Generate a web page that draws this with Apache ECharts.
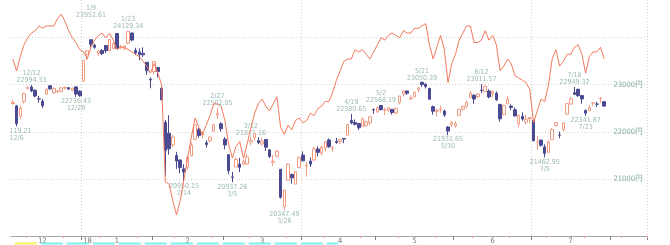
<!DOCTYPE html>
<html><head><meta charset="utf-8">
<script src="https://cdn.jsdelivr.net/npm/echarts@6/dist/echarts.min.js"></script>
<style>html,body{margin:0;padding:0;background:#fff}#c{width:670px;height:245px}</style>
</head><body><div id="c"></div>
<script>
// trading days per month (category axis)
const tradingDays = [
 ['2017-12',[5,6,7,8,11,12,13,14,15,18,19,20,21,22,25,26,27,28,29]],
 ['2018-01',[4,5,9,10,11,12,15,16,17,18,19,22,23,24,25,26,29,30,31]],
 ['2018-02',[1,2,5,6,7,8,9,13,14,15,16,19,20,21,22,23,26,27,28]],
 ['2018-03',[1,2,5,6,7,8,9,12,13,14,15,16,19,20,22,23,26,27,28,29,30]],
 ['2018-04',[2,3,4,5,6,9,10,11,12,13,16,17,18,19,20,23,24,25,26,27]],
 ['2018-05',[1,2,7,8,9,10,11,14,15,16,17,18,21,22,23,24,25,28,29,30,31]],
 ['2018-06',[1,4,5,6,7,8,11,12,13,14,15,18,19,20,21,22,25,26,27,28,29]],
 ['2018-07',[2,3,4,5,6,9,10,11,12,13,17,18,19,20,23,24,25,26,27,30,31]],
 ['2018-08',[1,2,3,6,7,8,9,10,13,14]]
];
// daily candles [open, close, low, high]
const candles = [
 [22600,22622,22580,22680],[22550,22177,22119.21,22570],[22330,22498,22280,22560],[22640,22811,22600,22830],
 [22920,22938,22890,22960],[22950,22866,22840,22994.33],[22880,22758,22730,22900],[22700,22694,22620,22760],
 [22650,22553,22500,22700],[22800,22901,22780,22920],[22975,22910,22890,22985],[22830,22915,22800,22940],
 [22860,22866,22810,22890],[22855,22930,22840,22945],[22925,22939,22900,22960],[22935,22905,22890,22950],
 [22880,22925,22860,22940],[22950,22800,22736.43,22970],[22860,22765,22745,22880],
 [23073,23506,23065,23506],[23643,23714,23520,23730],[23948,23850,23789,23952.61],[23832,23788,23755,23864],
 [23656,23710,23601,23734],[23720,23654,23622,23753],[23827,23715,23664,23833],[23721,23952,23704,23962],
 [23767,23868,23738,23899],[24078,23763,23762,24084],[23788,23808,23745,23839],[23748,23816,23729,23829],
 [23876,24124,23849,24129.34],[24090,23941,23917,24098],[23719,23669,23623,23778],[23690,23632,23519,23763],
 [23660,23629,23580,23787],[23470,23292,23206,23480],[23113,23098,22922,23154],
 [23276,23486,23211,23486],[23361,23275,23148,23367],[22921,22682,22659,22967],[22200,21610,21079,22250],
 [21970,21645,21521,22353],[21728,21891,21678,21932],[21500,21383,21219,21580],[21408,21245,21123,21408],
 [21219,21154,20950.15,21319],[21263,21465,21202,21481],[21495,21720,21495,21774],[21840,22149,21840,22152],
 [22056,21925,21879,22087],[21936,21971,21863,22012],[21769,21736,21669,21822],[21811,21893,21776,21903],
 [22019,22154,22004,22173],[22356,22390,22268,22502.05],[22173,22068,22008,22202],
 [21846,21724,21631,21892],[21520,21182,21102,21520],[21050,21042,20937.26,21154],[21260,21418,21260,21452],
 [21320,21253,21149,21452],[21319,21368,21316,21417],[21323,21469,21309,21544],[21785,21824,21720,21900],
 [21880,21968,21817,21968.16],[21815,21777,21742,21883],[21746,21804,21715,21880],[21840,21677,21598,21840],
 [21621,21481,21451,21640],[21358,21381,21279,21512],[21484,21592,21464,21615],[21210,20618,20589,21220],
 [20418,20766,20347.49,20780],[20980,21317,20979,21339],[21101,21031,20907,21115],[20897,21159,20897,21167],
 [21250,21454,21250,21488],
 [21511,21389,21381,21589],[21280,21292,21056,21369],[21383,21320,21261,21460],[21409,21645,21381,21680],
 [21639,21568,21483,21694],[21553,21678,21501,21701],[21661,21794,21590,21807],[21831,21687,21663,21862],
 [21650,21660,21580,21705],[21800,21779,21747,21874],[21790,21836,21737,21852],[21863,21848,21763,21864],
 [21929,22158,21925,22165],[22242,22191,22160,22380.65],[22200,22162,22136,22264],[22176,22088,22041,22193],
 [22120,22278,22114,22308],[22130,22215,22104,22238],[22193,22320,22137,22336],[22475,22468,22381,22495],
 [22426,22508,22397,22536],[22560,22473,22448,22568.19],[22460,22467,22355,22511],[22462,22509,22423,22530],
 [22478,22409,22365,22484],[22403,22497,22372,22519],[22623,22758,22582,22767],[22797,22866,22749,22876],
 [22866,22818,22783,22869],[22699,22717,22680,22771],[22740,22838,22737,22850],[22890,22930,22838,22945],
 [23050,23002,22950,23050.39],[23006,22960,22917,23032],[22920,22690,22681,22931],[22533,22437,22365,22559],
 [22435,22451,22326,22488],[22463,22481,22405,22557],[22440,22358,22317,22471],[22105,22019,21931.65,22123],
 [22155,22202,22100,22222],
 [22122,22171,22089,22220],[22349,22476,22345,22484],[22483,22540,22445,22550],[22539,22626,22514,22661],
 [22732,22823,22710,22856],[22773,22695,22594,22799],[22747,22804,22717,22816],[22883,22878,22815,23011.57],
 [22853,22966,22838,22981],[22865,22739,22708,22901],[22810,22852,22733,22881],[22817,22680,22653,22856],
 [22581,22278,22218,22593],[22366,22555,22350,22578],[22593,22693,22593,22762],[22545,22517,22458,22581],
 [22469,22338,22323,22517],[22170,22342,22100,22377],[22327,22272,22234,22414],[22205,22270,22156,22362],
 [22277,22305,22190,22311],
 [22240,21812,21808,22260],[21784,21786,21621,21915],[21827,21717,21690,21839],[21683,21547,21462.95,21735],
 [21570,21788,21557,21816],[21832,22052,21832,22081],[22132,22197,22115,22197],[21935,21932,21866,22006],
 [22049,22188,22018,22207],[22376,22597,22370,22601],[22588,22698,22588,22736],[22828,22794,22780,22949.32],
 [22900,22765,22743,22914],[22767,22697,22596,22778],[22454,22397,22341.87,22475],[22447,22510,22447,22572],
 [22612,22614,22551,22614],[22588,22587,22525,22635],[22707,22713,22613,22736],[22639,22545,22529,22651]
];
// overlay indicator (own hidden scale, 0-100)
const indicator = [
 75,70,76,81,84,86,87,89,88,89,89,89,92,94,91,87,84,82,79,
 78,75,80,83,85,86,84,86,83,79,80,80,79,78,77,76,74,72,69,
 73,69,64,23,22,15,9,15,24,33,42,50,46,43,47,51,56,56,55,
 49,39,33,38,40,33,39,46,52,56,58,55,53,56,59,46,43,47,45,49,50,
 48,49,52,51,54,55,57,57,61,66,70,74,75,75,79,78,79,77,75,78,
 81,84,83,85,86,85,84,87,86,86,88,88,89,90,81,75,80,85,79,65,73,
 77,83,86,89,89,82,82,83,87,83,85,81,70,72,75,73,68,67,66,65,62,
 48,53,58,57,64,75,79,72,74,77,77,80,81,77,69,76,78,78,80,75
];
// marked highs and lows
const extremes = [
 ['2017-12-06','low',22119.21],['2017-12-12','high',22994.33],['2017-12-28','low',22736.43],
 ['2018-01-09','high',23952.61],['2018-01-23','high',24129.34],['2018-02-14','low',20950.15],
 ['2018-02-27','high',22502.05],['2018-03-05','low',20937.26],['2018-03-12','high',21871.16],
 ['2018-03-26','low',20347.49],['2018-04-19','high',22380.65],['2018-05-02','high',22568.19],
 ['2018-05-21','high',23050.39],['2018-05-30','low',21931.65],['2018-06-12','high',23011.57],
 ['2018-07-05','low',21462.95],['2018-07-18','high',22949.32],['2018-07-23','low',22341.87]
];
// signal strip periods under the axis
const signalPeriods = [
 ['2017-12-06','2017-12-14','yellow'],
 ['2017-12-15','2018-04-13','cyan']
];
const priceTicks = [21000,22000,23000,24000];
const priceLabels = [21000,22000,23000];

// layout tweaks (not data)
const labelNudge = {'2018-01-09': -20};
const stripColors = {yellow: '#f2f25a', cyan: '#7ff0f0'};

const dates = [];
tradingDays.forEach(([ym, days]) => days.forEach(d => dates.push(ym + '-' + String(d).padStart(2,'0'))));
const monthStart = new Set();
for (let i = 1; i < dates.length; i++) if (dates[i].slice(0,7) !== dates[i-1].slice(0,7)) monthStart.add(i);
const quarterStart = new Set([...monthStart].filter(i => ['01','04','07','10'].includes(dates[i].slice(5,7))));
const monthLabelAt = {};
{
  let s = -3, prev = dates[0].slice(0,7);
  for (let i = 1; i <= dates.length; i++) {
    const cur = i < dates.length ? dates[i].slice(0,7) : null;
    if (cur !== prev) {
      if (prev <= '2018-07') monthLabelAt[Math.round((s + i - 1) / 2)] = String(parseInt(prev.slice(5,7)));
      s = i; prev = cur;
    }
  }
}
const yearStart = [...monthStart].find(i => dates[i].slice(5,7) === '01');

const FONT = "'Liberation Sans Narrow','DejaVu Sans Condensed',sans-serif";
const labelColor = '#82aa9b';

const extremeData = extremes.map(([d, kind, v]) => {
  const idx = dates.indexOf(d);
  const md = parseInt(d.slice(5,7)) + '/' + parseInt(d.slice(8,10));
  const txt = kind === 'high' ? md + '\n' + v.toFixed(2) : v.toFixed(2) + '\n' + md;
  return {
    value: [idx, v],
    label: {
      show: true, formatter: txt,
      position: kind === 'high' ? 'top' : 'bottom', distance: 1,
      offset: [0, labelNudge[d] || 0]
    }
  };
});
const stripData = signalPeriods.map(([a, b, c]) => [dates.indexOf(a), dates.indexOf(b), c]);

const chart = echarts.init(document.getElementById('c'), null, {renderer: 'canvas'});
chart.setOption({
  animation: false,
  backgroundColor: '#fff',
  grid: {left: 11, right: 23, top: 0, bottom: 9, containLabel: false},
  xAxis: [{
    type: 'category', data: dates, boundaryGap: true,
    axisLine: {lineStyle: {color: '#a8a8a8', width: 1}},
    axisTick: {show: true, length: 4, interval: (i) => monthStart.has(i), lineStyle: {color: '#808080'}},
    axisLabel: {
      interval: (i) => monthLabelAt[i] !== undefined || i === yearStart,
      formatter: (v, i) => i === yearStart ? '{y|18}' : monthLabelAt[i],
      color: '#777', fontSize: 7.5, fontFamily: FONT, margin: 1,
      rich: {y: {padding: [0, 0, 0, 8], fontSize: 7.5, color: '#777', fontFamily: FONT}}
    },
    splitLine: {show: true, interval: (i) => quarterStart.has(i), lineStyle: {color: '#d0d0d0', type: [1, 2]}}
  }, {
    type: 'category', data: dates, boundaryGap: true, position: 'bottom',
    axisLine: {show: false}, axisLabel: {show: false}, splitLine: {show: false},
    axisTick: {show: true, length: 2, interval: (i) => i % 10 === 4, lineStyle: {color: '#f39a86'}}
  }],
  yAxis: [{
    type: 'value', position: 'right', min: 19801, max: 24787, scale: true,
    axisLine: {show: false},
    axisTick: {show: false, customValues: priceTicks},
    axisLabel: {inside: true, margin: 4, customValues: priceLabels, formatter: (v) => v + '円',
      color: labelColor, fontSize: 7.5, fontFamily: FONT},
    splitLine: {show: true, lineStyle: {color: '#d6d6d6', type: [1, 2]}}
  }, {
    type: 'value', min: 0, max: 100, show: false, splitLine: {show: false}
  }],
  graphic: [{type: 'rect', left: 0, top: 0, shape: {width: 10, height: 236}, style: {fill: '#fff'}, z: 100}],
  series: [{
    type: 'candlestick', data: candles, barWidth: 3,
    itemStyle: {color: '#ffffff', color0: '#4a4a92', borderColor: '#f29a82', borderColor0: '#4a4a92', borderWidth: 1},
    z: 3
  }, {
    type: 'line', data: indicator, yAxisIndex: 1, symbol: 'none', smooth: false,
    lineStyle: {color: '#f47a5e', width: 1}, z: 4
  }, {
    type: 'scatter', data: extremeData, symbolSize: 0, z: 2,
    label: {color: labelColor, fontSize: 7, lineHeight: 7, fontFamily: FONT, align: 'center'}
  }, {
    type: 'custom', data: stripData, clip: false, silent: true, z: 1,
    encode: {x: [0, 1]},
    renderItem: (params, api) => {
      const cs = params.coordSys;
      const bw = api.size([1, 0])[0];
      const x1 = api.coord([api.value(0), 0])[0] - bw / 2;
      const x2 = api.coord([api.value(1), 0])[0] + bw / 2;
      const y = cs.y + cs.height + 7.5;
      return {type: 'line', shape: {x1, y1: y, x2, y2: y},
        style: {stroke: stripColors[stripData[params.dataIndex][2]], lineWidth: 2, lineDash: [22, 4]}};
    }
  }]
});
</script></body></html>
